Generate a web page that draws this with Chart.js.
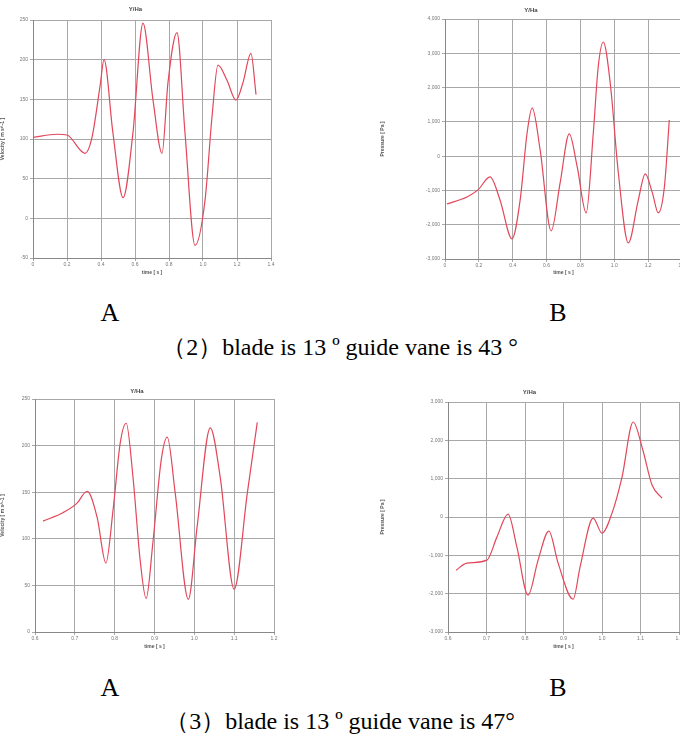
<!DOCTYPE html>
<html>
<head>
<meta charset="utf-8">
<script src="https://cdn.jsdelivr.net/npm/chart.js@4"></script>
<style>
  html, body { margin: 0; padding: 0; background: #fff; width: 680px; height: 742px; overflow: hidden; position: relative; }
  canvas { position: absolute; }
  .cap { position: absolute; font-family: 'Liberation Serif', 'DejaVu Serif', serif; color: #000; white-space: nowrap; line-height: 1; }
  .letter { font-size: 26px; transform: translateX(-50%); }
  .line { font-size: 24px; left: 0; width: 680px; text-align: center; }
</style>
</head>
<body>
<canvas id="plotA1" width="290" height="276" style="left:0px;top:0px;"></canvas>
<canvas id="plotB1" width="310" height="276" style="left:380px;top:0px;"></canvas>
<canvas id="plotA2" width="290" height="278" style="left:0px;top:372px;"></canvas>
<canvas id="plotB2" width="310" height="278" style="left:380px;top:372px;"></canvas>

<div class="cap letter" style="left:110px;top:300px;">A</div>
<div class="cap letter" style="left:558px;top:300px;">B</div>
<div class="cap line" style="top:335px;">（2）blade is 13 º guide vane is 43 °</div>
<div class="cap letter" style="left:110px;top:675px;">A</div>
<div class="cap letter" style="left:558px;top:675px;">B</div>
<div class="cap line" style="top:709px;">（3）blade is 13 º guide vane is 47°</div>

<script>
// ============================================
// Data
// ============================================

// (2) 13° / 43°, plot A
const a1Time = [0, 0.141, 0.2, 0.306, 0.347, 0.394, 0.418, 0.47, 0.53, 0.588, 0.647, 0.706, 0.759, 0.794, 0.847, 0.894, 0.953, 1.012, 1.053, 1.088, 1.141, 1.194, 1.235, 1.282, 1.312]
const a1Values = [102, 106, 105, 82, 102, 166, 200, 108, 26, 108, 246, 149, 82, 171, 234, 108, -34, 23, 128, 193, 174, 149, 171, 208, 156]

// (2) 13° / 43°, plot B
const b1Time = [0.012, 0.13, 0.195, 0.266, 0.325, 0.396, 0.444, 0.485, 0.515, 0.562, 0.627, 0.68, 0.734, 0.781, 0.834, 0.876, 0.905, 0.935, 0.976, 1.024, 1.083, 1.142, 1.183, 1.225, 1.26, 1.296, 1.325]
const b1Values = [-1394, -1190, -985, -606, -1277, -2414, -1277, 676, 1405, 181, -2181, -781, 647, -315, -1656, 676, 2601, 3329, 2134, -490, -2531, -1277, -519, -1073, -1656, -898, 1055]

// (3) 13° / 47°, plot A
const a2Time = [0.62, 0.67, 0.705, 0.731, 0.756, 0.778, 0.796, 0.814, 0.829, 0.846, 0.864, 0.879, 0.896, 0.917, 0.932, 0.952, 0.985, 1.007, 1.04, 1.065, 1.1, 1.133, 1.158]
const a2Values = [119, 128, 138, 151, 123, 74, 131, 203, 224, 166, 77, 36, 96, 185, 209, 149, 35, 113, 219, 166, 46, 149, 225]

// (3) 13° / 47°, plot B
const b2Time = [0.621, 0.649, 0.701, 0.727, 0.756, 0.779, 0.808, 0.834, 0.862, 0.886, 0.925, 0.943, 0.977, 1.0, 1.026, 1.052, 1.081, 1.106, 1.13, 1.156]
const b2Values = [-1386, -1204, -1125, -525, 76, -786, -2039, -1125, -368, -1204, -2144, -1308, -29, -420, 102, 1042, 2478, 1747, 833, 493]

// axis ranges [min, max, step]
const xRange1 = [0, 1.4, 0.2]
const xRange2 = [0.6, 1.2, 0.1]
const a1YRange = [-50, 250, 50]
const b1YRange = [-3000, 4000, 1000]
const a2YRange = [0, 250, 50]
const b2YRange = [-3000, 3000, 1000]

const plotTitle = 'Y/Ha'
const xTitle = 'time [ s ]'
const velTitle = 'Velocity [ m s^-1 ]'
const presTitle = 'Pressure [ Pa ]'

const LINE = '#e2475a'
const GRID = '#a8a8a8'
const TICK = '#777'

Chart.defaults.font.family = 'Liberation Sans'

function makePlot(id, xs, ys, xr, yr, yTitle, box) {
  return new Chart(document.getElementById(id), {
    type: 'line',
    data: {
      datasets: [{
        data: xs.map((x, i) => ({ x, y: ys[i] })),
        borderColor: LINE,
        borderWidth: 1.2,
        pointRadius: 0,
        cubicInterpolationMode: 'monotone',
        fill: false
      }]
    },
    options: {
      responsive: false,
      animation: false,
      layout: { padding: { left: 0, right: box.padRight, top: 0, bottom: 0 } },
      plugins: {
        legend: { display: false },
        tooltip: { enabled: false },
        title: {
          display: true, text: plotTitle, color: '#444',
          font: { size: 6, weight: 'bold' },
          padding: { top: box.titleTop, bottom: box.top - box.titleTop - 7.2 }
        }
      },
      scales: {
        x: {
          type: 'linear', min: xr[0], max: xr[1],
          ticks: { stepSize: xr[2], color: TICK, font: { size: 5 }, maxRotation: 0, padding: 1 },
          grid: { color: GRID, tickLength: 3 },
          border: { color: '#888' },
          title: { display: true, text: xTitle, color: '#555', font: { size: 5, weight: 'bold' }, padding: 0 },
          afterFit: s => { s.height = box.xh }
        },
        y: {
          min: yr[0], max: yr[1],
          ticks: { stepSize: yr[2], color: TICK, font: { size: 5 }, padding: 2 },
          grid: { color: GRID, tickLength: 3 },
          border: { color: '#888' },
          title: { display: true, text: yTitle, color: '#555', font: { size: 5, weight: 'bold' }, padding: 0 },
          afterFit: s => { s.width = box.yw }
        }
      }
    }
  })
}

makePlot('plotA1', a1Time, a1Values, xRange1, a1YRange, velTitle, { top: 20, titleTop: 6, yw: 33, xh: 18, padRight: 19 })
makePlot('plotB1', b1Time, b1Values, xRange1, b1YRange, presTitle, { top: 19, titleTop: 7, yw: 65, xh: 17, padRight: 8 })
makePlot('plotA2', a2Time, a2Values, xRange2, a2YRange, velTitle, { top: 27, titleTop: 16, yw: 35, xh: 18, padRight: 16 })
makePlot('plotB2', b2Time, b2Values, xRange2, b2YRange, presTitle, { top: 30, titleTop: 17, yw: 68, xh: 18, padRight: 11 })
</script>
</body>
</html>
